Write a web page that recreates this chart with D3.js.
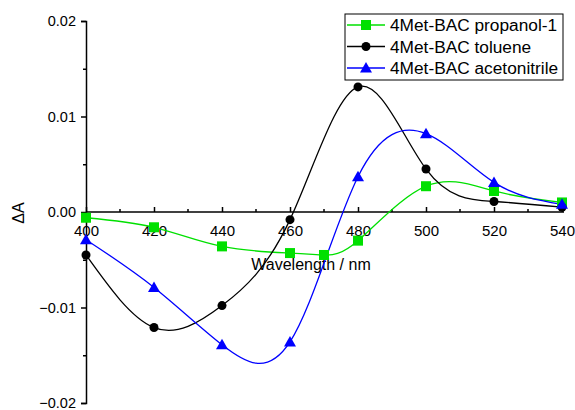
<!DOCTYPE html>
<html>
<head>
<meta charset="utf-8">
<script src="https://cdn.jsdelivr.net/npm/d3@7"></script>
<style>
  body { margin: 0; background: #fff; }
  svg { font-family: Arial, "Liberation Sans", sans-serif; }
</style>
</head>
<body>
<svg id="chart" width="575" height="410"></svg>
<script>
// data
const wavelengths = [400, 420, 440, 460, 470, 480, 500, 520, 540];
const propanol = [-0.0006, -0.0016, -0.0036, -0.0043, -0.0045, -0.003, 0.0027, 0.0022, 0.001];
const toluWl = [400, 420, 440, 460, 480, 500, 520, 540];
const toluene = [-0.0045, -0.0121, -0.0098, -0.0008, 0.0131, 0.0045, 0.0011, 0.0005];
const acetoWl = [400, 420, 440, 460, 480, 500, 520, 540];
const acetonitrile = [-0.0029, -0.0079, -0.0139, -0.0136, 0.0037, 0.0082, 0.0031, 0.0008];
const xTicks = [400, 420, 440, 460, 480, 500, 520, 540];
const yTicks = [-0.02, -0.01, 0, 0.01, 0.02];
const seriesNames = ["4Met-BAC propanol-1", "4Met-BAC toluene", "4Met-BAC acetonitrile"];

const svg = d3.select("#chart");
const x = d3.scaleLinear().domain([400, 540]).range([86, 562]);
const y = d3.scaleLinear().domain([-0.02, 0.02]).range([403, 21]);

// y axis (ticks outward)
const yAxis = svg.append("g").attr("transform", "translate(86,0)")
  .call(d3.axisLeft(y).tickValues(yTicks).tickSize(5).tickPadding(5)
    .tickFormat(d => d === 0 ? "0.00" : d3.format(".2f")(d)));
yAxis.select(".domain").attr("stroke-width", 1.5);
yAxis.selectAll(".tick line").attr("stroke-width", 1.5);
yAxis.selectAll("text").attr("font-size", 14.5).attr("font-family", "Arial, 'Liberation Sans'");
svg.append("g").attr("transform", "translate(86,0)")
  .call(d3.axisLeft(y).tickValues([-0.015, -0.005, 0.005, 0.015]).tickSize(3).tickFormat(""))
  .call(g => g.select(".domain").remove())
  .selectAll("line").attr("stroke-width", 1.5);

// x axis through zero, ticks pointing up
const xAxis = svg.append("g").attr("transform", `translate(0,${y(0)})`)
  .call(d3.axisBottom(x).tickValues(xTicks).tickSize(0).tickPadding(13));
xAxis.select(".domain").attr("stroke-width", 1.5).attr("d", `M${x(400)},0H${x(540) + 2}`);
xAxis.selectAll("text").attr("font-size", 15).attr("font-family", "Arial, 'Liberation Sans'");
xAxis.selectAll(".tick").append("line").attr("y2", -5).attr("stroke", "#000").attr("stroke-width", 1.5);
svg.append("g").attr("transform", `translate(0,${y(0)})`)
  .selectAll("line").data(d3.range(410, 540, 20)).join("line")
  .attr("x1", d => x(d)).attr("x2", d => x(d)).attr("y1", 0).attr("y2", -3)
  .attr("stroke", "#000").attr("stroke-width", 1.5);

svg.append("text").attr("x", 311).attr("y", 270).attr("text-anchor", "middle")
  .attr("font-size", 16).text("Wavelength / nm");
svg.append("text").attr("transform", "translate(24,213) rotate(-90)")
  .attr("text-anchor", "middle").attr("font-size", 16).text("ΔA");

const line = d3.line().curve(d3.curveNatural).x(d => x(d[0])).y(d => y(d[1]));

const series = [
  { name: seriesNames[0], color: "#00e000", shape: "square", pts: d3.zip(wavelengths, propanol) },
  { name: seriesNames[1], color: "#000000", shape: "circle", pts: d3.zip(toluWl, toluene) },
  { name: seriesNames[2], color: "#0000ff", shape: "triangle", pts: d3.zip(acetoWl, acetonitrile) }
];

function marker(g, shape, color, cx, cy) {
  if (shape === "square") {
    g.append("rect").attr("x", cx - 5).attr("y", cy - 5).attr("width", 10).attr("height", 10).attr("fill", color);
  } else if (shape === "circle") {
    g.append("circle").attr("cx", cx).attr("cy", cy).attr("r", 4.5).attr("fill", color);
  } else {
    g.append("path").attr("d", `M${cx},${cy - 6}L${cx + 6},${cy + 4.5}L${cx - 6},${cy + 4.5}Z`).attr("fill", color);
  }
}

series.forEach(s => {
  svg.append("path").attr("d", line(s.pts)).attr("fill", "none")
    .attr("stroke", s.color).attr("stroke-width", 1.3);
});
series.forEach(s => {
  const g = svg.append("g");
  s.pts.forEach(p => marker(g, s.shape, s.color, x(p[0]), y(p[1])));
});

// legend
const lg = svg.append("g");
lg.append("rect").attr("x", 345).attr("y", 14).attr("width", 218).attr("height", 66)
  .attr("fill", "#fff").attr("stroke", "#000").attr("stroke-width", 1);
series.forEach((s, i) => {
  const ly = 25 + i * 21.5;
  lg.append("line").attr("x1", 347).attr("x2", 385).attr("y1", ly).attr("y2", ly)
    .attr("stroke", s.color).attr("stroke-width", 1.3);
  marker(lg, s.shape, s.color, 366, ly);
  lg.append("text").attr("x", 390).attr("y", ly + 6).attr("font-size", 17.3).text(s.name);
});
</script>
</body>
</html>
